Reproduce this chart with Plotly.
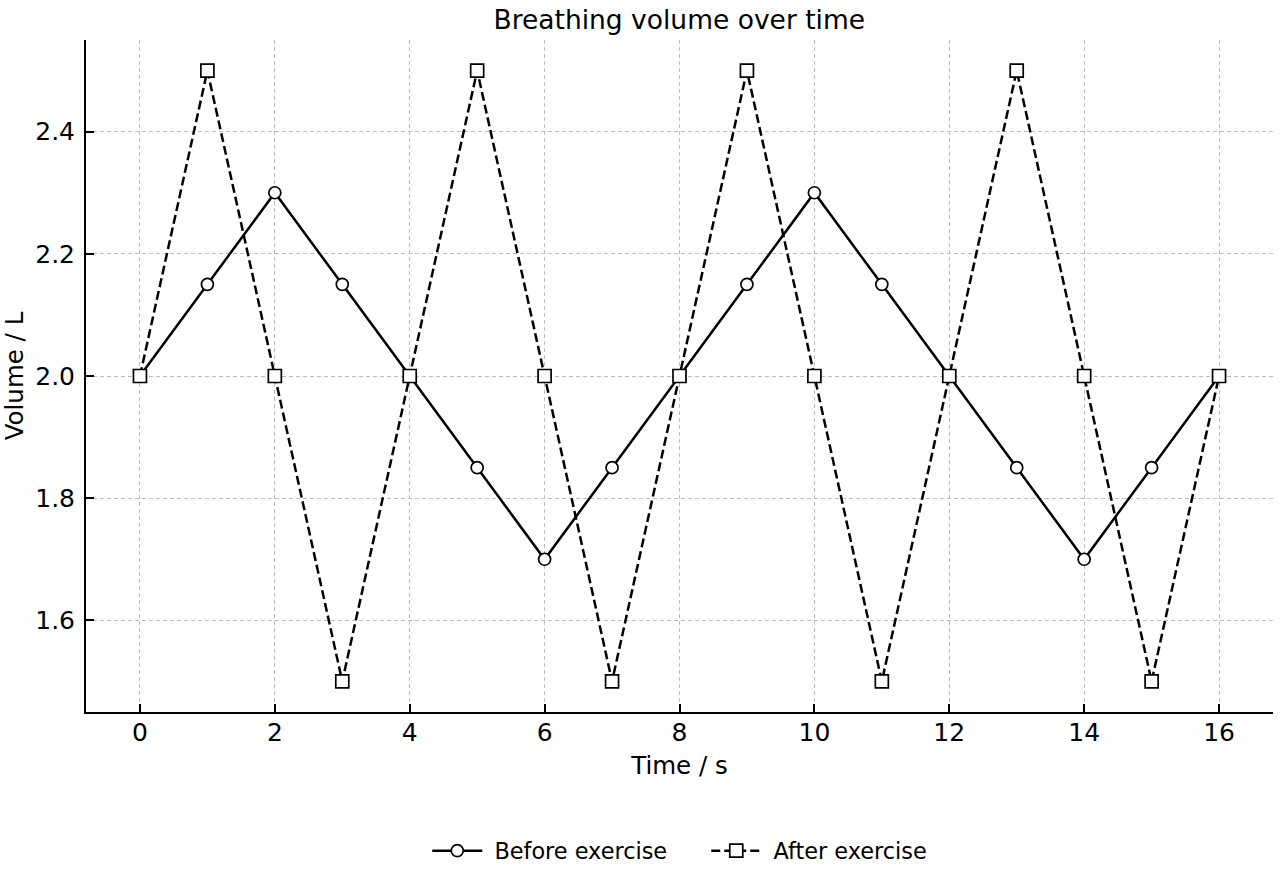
import plotly.graph_objects as go

time_s = list(range(17))
before = [2.0, 2.15, 2.3, 2.15, 2.0, 1.85, 1.7, 1.85, 2.0, 2.15, 2.3, 2.15, 2.0, 1.85, 1.7, 1.85, 2.0]
after = [2.0, 2.5, 2.0, 1.5, 2.0, 2.5, 2.0, 1.5, 2.0, 2.5, 2.0, 1.5, 2.0, 2.5, 2.0, 1.5, 2.0]
x_ticks = list(range(0, 17, 2))
y_ticks = [1.6, 1.8, 2.0, 2.2, 2.4]
series_names = ["\u00a0Before exercise", "\u00a0After exercise"]

fig = go.Figure()
fig.add_trace(go.Scatter(
    x=time_s, y=before, name=series_names[0], mode="lines+markers",
    line=dict(color="black", width=2.5),
    marker=dict(symbol="circle", size=12, color="white", line=dict(color="black", width=1.7)),
))
fig.add_trace(go.Scatter(
    x=time_s, y=after, name=series_names[1], mode="lines+markers",
    line=dict(color="black", width=2.5, dash="9px,4px"),
    marker=dict(symbol="square", size=13, color="white", line=dict(color="black", width=1.7)),
))

axis_common = dict(
    showline=True, linecolor="black", linewidth=2, mirror=False,
    ticks="inside", ticklen=8, tickwidth=2, tickcolor="black",
    showgrid=True, gridcolor="#bdbdbd", griddash="4px,3px", gridwidth=1,
    zeroline=False, tickfont=dict(size=25, color="black"),
)
fig.update_xaxes(range=[-0.8, 16.8], tickvals=x_ticks, ticklabelstandoff=-3,
                 title=dict(text="Time / s", font=dict(size=24.5, color="black"), standoff=11),
                 **axis_common)
fig.update_yaxes(range=[1.45, 2.55], tickvals=y_ticks, tickformat=".1f", ticklabelstandoff=4,
                 title=dict(text="Volume / L", font=dict(size=24.5, color="black"), standoff=5),
                 **axis_common)

fig.update_layout(
    width=1280, height=880,
    margin=dict(l=86, r=7, t=40, b=166),
    paper_bgcolor="white", plot_bgcolor="white",
    font=dict(family="DejaVu Sans", color="black"),
    title=dict(text="Breathing volume over time", x=0.5307, xanchor="center", y=0.978, yanchor="middle",
               font=dict(size=26.5, color="black")),
    legend=dict(orientation="h", x=0.2875, xanchor="left", y=-0.207, yanchor="middle",
                font=dict(size=22.4, color="black"), itemwidth=50,
                entrywidth=214, entrywidthmode="pixels"),
    showlegend=True,
)

fig.write_html("out.html")
